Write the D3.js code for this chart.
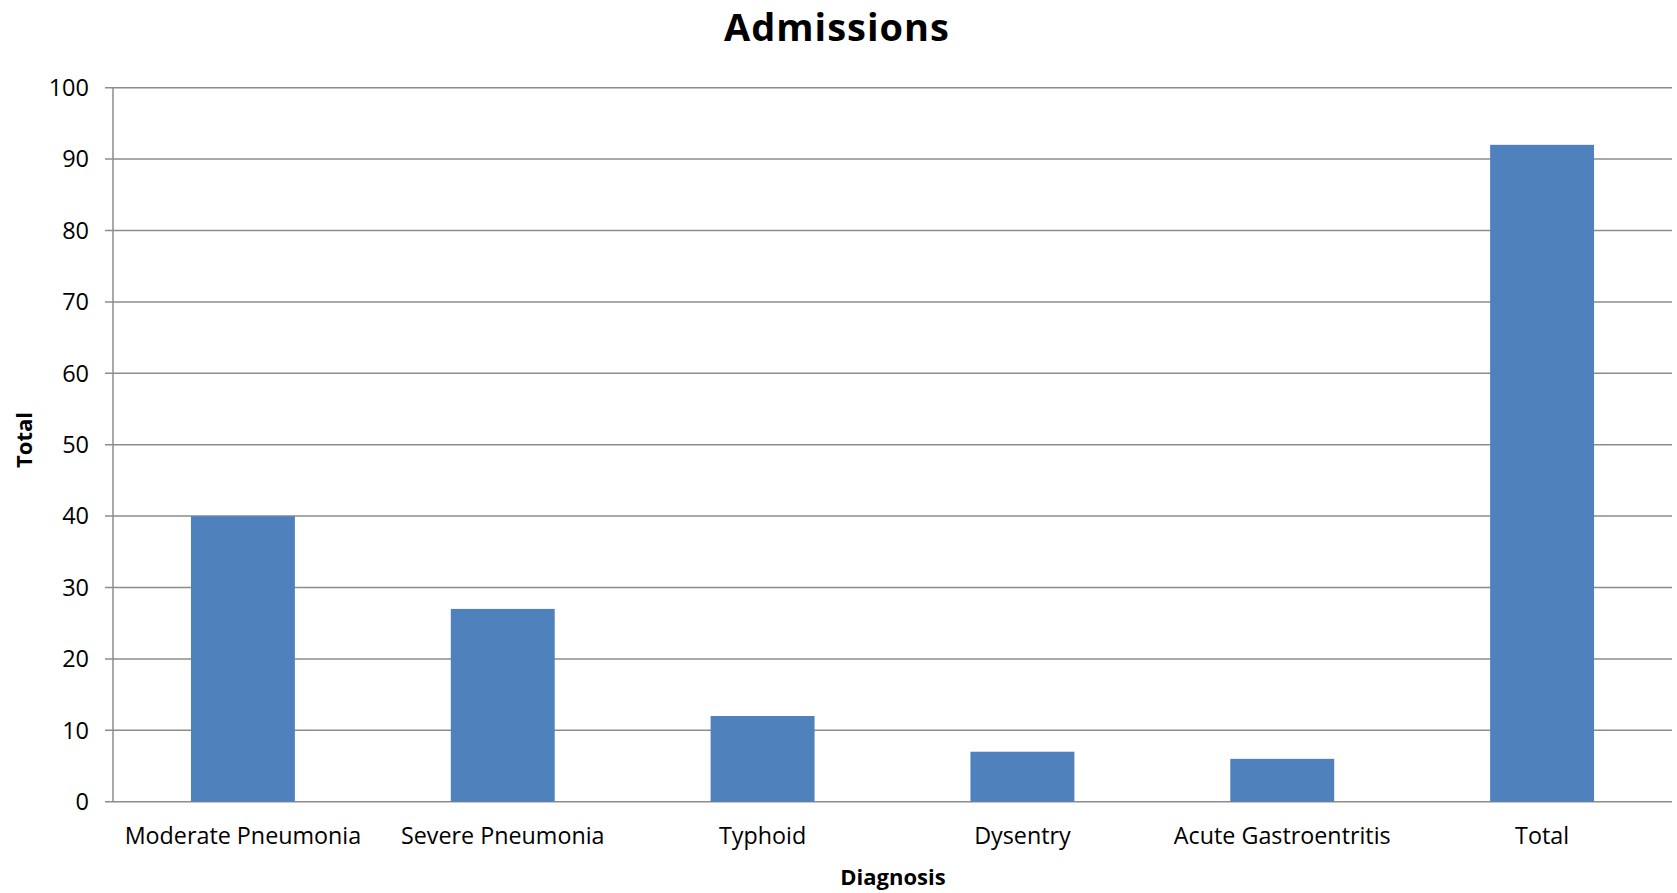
<!DOCTYPE html>
<html>
<head>
<meta charset="utf-8">
<script src="https://cdn.jsdelivr.net/npm/d3@7"></script>
<style>
  html, body { margin: 0; padding: 0; background: #fff; }
  svg { display: block; }
  text { font-family: "Open Sans", sans-serif; fill: #000; }
</style>
</head>
<body>
<svg id="chart" width="1677" height="893"></svg>
<script>
const categories = ["Moderate Pneumonia", "Severe Pneumonia", "Typhoid", "Dysentry", "Acute Gastroentritis", "Total"];
const values = [40, 27, 12, 7, 6, 92];
const yTicks = [0, 10, 20, 30, 40, 50, 60, 70, 80, 90, 100];
const chartTitle = "Admissions";
const xTitle = "Diagnosis";
const yTitle = "Total";

const svg = d3.select("#chart");
const plotLeft = 113, plotRight = 1672, plotTop = 87.7, plotBottom = 801.7;

const x = d3.scaleBand().domain(categories).range([plotLeft, plotRight]).paddingInner(0.6).paddingOuter(0.3);
const y = d3.scaleLinear().domain([0, 100]).range([plotBottom, plotTop]);

const gridColor = "#8c8c8c";

// gridlines
svg.append("g").selectAll("line").data(yTicks).join("line")
  .attr("x1", plotLeft - 8).attr("x2", plotRight)
  .attr("y1", d => y(d)).attr("y2", d => y(d))
  .attr("stroke", gridColor).attr("stroke-width", 1.5);

// bars
svg.append("g").selectAll("rect").data(values).join("rect")
  .attr("x", (d, i) => x(categories[i]))
  .attr("width", x.bandwidth())
  .attr("y", d => y(d))
  .attr("height", d => y(0) - y(d))
  .attr("fill", "#4F81BD");

// y axis line
svg.append("line").attr("x1", plotLeft).attr("x2", plotLeft).attr("y1", plotTop).attr("y2", plotBottom)
  .attr("stroke", gridColor).attr("stroke-width", 1.5);

// y tick labels
svg.append("g").selectAll("text").data(yTicks).join("text")
  .attr("x", 89).attr("y", d => y(d)).attr("dy", "0.35em")
  .attr("text-anchor", "end").style("font-size", "23.5px").text(d => d);

// x labels
svg.append("g").selectAll("text").data(categories).join("text")
  .attr("x", d => x(d) + x.bandwidth() / 2).attr("y", 844)
  .attr("text-anchor", "middle").style("font-size", "23.3px").text(d => d);

// titles
svg.append("text").attr("x", 837).attr("y", 41).attr("text-anchor", "middle")
  .style("font-size", "38px").style("font-weight", "bold").style("letter-spacing", "1px").text(chartTitle);
svg.append("text").attr("x", 893).attr("y", 885).attr("text-anchor", "middle")
  .style("font-size", "22px").style("font-weight", "bold").text(xTitle);
svg.append("text").attr("transform", "translate(32,440) rotate(-90)").attr("text-anchor", "middle")
  .style("font-size", "22px").style("font-weight", "bold").text(yTitle);
</script>
</body>
</html>
